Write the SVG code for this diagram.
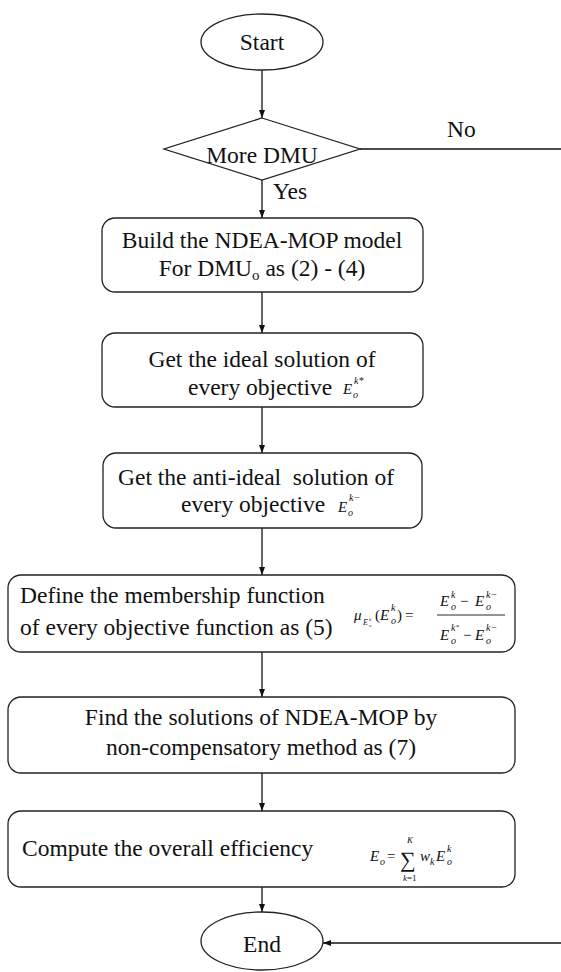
<svg xmlns="http://www.w3.org/2000/svg" width="561" height="972" viewBox="0 0 561 972">
<defs>
<marker id="ah" markerWidth="8" markerHeight="8" refX="8" refY="4" orient="auto" markerUnits="userSpaceOnUse">
<path d="M0,1 L8,4 L0,7 Z" fill="#111"/>
</marker>
<style>
.sh{fill:#fff;stroke:#222;stroke-width:1.3}
.t{font-size:23.5px;fill:#111}
.c{text-anchor:middle}
.m{font-style:italic;fill:#111}
.n{font-style:normal;fill:#111}
.cn{stroke:#111;stroke-width:1.3;fill:none}
</style>
</defs>
<rect width="561" height="972" fill="#fff"/>
<g font-family="'Liberation Serif', 'Times New Roman', serif">
<g id="connectors">
<line class="cn" x1="262" y1="70" x2="262" y2="118" marker-end="url(#ah)"/>
<line class="cn" x1="262" y1="180" x2="262" y2="218" marker-end="url(#ah)"/>
<line class="cn" x1="360" y1="149" x2="561" y2="149"/>
<line class="cn" x1="262" y1="292" x2="262" y2="333" marker-end="url(#ah)"/>
<line class="cn" x1="262" y1="407" x2="262" y2="453" marker-end="url(#ah)"/>
<line class="cn" x1="262" y1="528" x2="262" y2="575" marker-end="url(#ah)"/>
<line class="cn" x1="262" y1="652" x2="262" y2="697" marker-end="url(#ah)"/>
<line class="cn" x1="262" y1="773" x2="262" y2="811" marker-end="url(#ah)"/>
<line class="cn" x1="262" y1="887" x2="262" y2="912" marker-end="url(#ah)"/>
<line class="cn" x1="561" y1="943" x2="323" y2="943" marker-end="url(#ah)"/>
<text class="t" x="447" y="137">No</text>
<text class="t" x="273" y="199">Yes</text>
</g>
<g id="start">
<ellipse class="sh" cx="262" cy="42" rx="61" ry="28"/>
<text class="t c" x="262" y="50">Start</text>
</g>
<g id="decision">
<polygon class="sh" points="262,118 360,149 262,180 164,149"/>
<text class="t c" x="262" y="163">More DMU</text>
</g>
<g id="build">
<rect class="sh" x="102" y="218" width="321" height="74" rx="13"/>
<text class="t c" x="262" y="248">Build the NDEA-MOP model</text>
<text class="t c" x="262" y="276">For DMU<tspan font-size="15" dy="4">o</tspan><tspan dy="-4"> as (2) - (4)</tspan></text>
</g>
<g id="ideal">
<rect class="sh" x="102" y="333" width="321" height="74" rx="13"/>
<text class="t c" x="262" y="367">Get the ideal solution of</text>
<text class="t" x="188" y="395">every objective</text>
<text class="m" x="343" y="394" font-size="15">E</text>
<text class="m" x="353" y="398" font-size="10">o</text>
<text class="m" x="354" y="384" font-size="10">k*</text>
</g>
<g id="antiideal">
<rect class="sh" x="103" y="453" width="319" height="75" rx="13"/>
<text class="t" x="118" y="485" xml:space="preserve">Get the anti-ideal  solution of</text>
<text class="t" x="181" y="512">every objective</text>
<text class="m" x="338" y="512" font-size="15">E</text>
<text class="m" x="348" y="516" font-size="10">o</text>
<text class="m" x="349" y="501" font-size="10">k−</text>
</g>
<g id="membership">
<rect class="sh" x="8" y="575" width="507" height="77" rx="13"/>
<text class="t" x="20" y="603">Define the membership function</text>
<text class="t" x="20" y="635">of every objective function as (5)</text>
<text class="m" x="354" y="620" font-size="15">μ</text>
<text class="m" x="363" y="625" font-size="8">E</text>
<text class="m" x="369" y="627" font-size="5">o</text>
<text class="m" x="369" y="621" font-size="5">k</text>
<text class="n" x="375" y="620" font-size="15">(</text>
<text class="m" x="380" y="620" font-size="15">E</text>
<text class="m" x="391" y="624" font-size="10">o</text>
<text class="m" x="391" y="611" font-size="10">k</text>
<text class="n" x="397" y="620" font-size="15">)</text>
<text class="n" x="405" y="620" font-size="15">=</text>
<text class="m" x="440" y="606" font-size="15">E</text>
<text class="m" x="451" y="610" font-size="10">o</text>
<text class="m" x="451" y="598" font-size="10">k</text>
<text class="n" x="460" y="606" font-size="15">−</text>
<text class="m" x="475" y="606" font-size="15">E</text>
<text class="m" x="486" y="610" font-size="10">o</text>
<text class="m" x="486" y="598" font-size="10">k−</text>
<line x1="437" y1="615" x2="505" y2="615" stroke="#111" stroke-width="0.9"/>
<text class="m" x="440" y="640" font-size="15">E</text>
<text class="m" x="451" y="644" font-size="10">o</text>
<text class="m" x="451" y="631" font-size="10">k<tspan font-size="7" dy="-2">*</tspan></text>
<text class="n" x="463" y="640" font-size="15">−</text>
<text class="m" x="475" y="640" font-size="15">E</text>
<text class="m" x="486" y="644" font-size="10">o</text>
<text class="m" x="486" y="631" font-size="10">k−</text>
</g>
<g id="solutions">
<rect class="sh" x="8" y="697" width="507" height="76" rx="13"/>
<text class="t c" x="261" y="725">Find the solutions of NDEA-MOP by</text>
<text class="t c" x="261" y="755">non-compensatory method as (7)</text>
</g>
<g id="overall">
<rect class="sh" x="8" y="811" width="507" height="76" rx="13"/>
<text class="t" x="22" y="856">Compute the overall efficiency</text>
<text class="m" x="370" y="861" font-size="15">E</text>
<text class="m" x="380" y="865" font-size="10">o</text>
<text class="n" x="387" y="861" font-size="15">=</text>
<text class="n" x="400" y="867" font-size="22">∑</text>
<text class="m" x="407" y="843" font-size="9">K</text>
<text class="m" x="403" y="881" font-size="9">k<tspan font-style="normal">=1</tspan></text>
<text class="m" x="420" y="861" font-size="15">w</text>
<text class="m" x="430" y="865" font-size="10">k</text>
<text class="m" x="436" y="861" font-size="15">E</text>
<text class="m" x="447" y="865" font-size="10">o</text>
<text class="m" x="447" y="852" font-size="10">k</text>
</g>
<g id="end">
<ellipse class="sh" cx="262" cy="941" rx="61" ry="29"/>
<text class="t c" x="262" y="952">End</text>
</g>
</g>
</svg>
